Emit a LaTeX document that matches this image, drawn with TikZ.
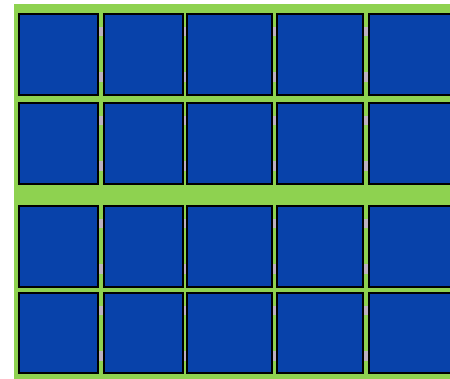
\documentclass[tikz,border=0pt]{standalone}
\usetikzlibrary{calc}
\definecolor{bggreen}{RGB}{142,210,80}
\definecolor{panelblue}{RGB}{8,66,170}
\definecolor{linkgray}{RGB}{188,178,192}
\tikzset{
  panel/.style={draw=black, line width=2pt, fill=panelblue, anchor=north west, inner sep=0pt, outer sep=0pt},
  link/.style={fill=linkgray}
}
\begin{document}
\begin{tikzpicture}[x=1pt,y=1pt]
\useasboundingbox (0,0) rectangle (450,-379);
\fill[bggreen] (14,-4) rectangle (450,-379);
\begin{scope}
\clip (0,0) rectangle (450,-379);
% rows: top, height ; columns: left, width
\foreach \r/\top/\h in {1/14/81, 2/103/81, 3/206/81, 4/293/80}{
  \foreach \c/\left/\w in {1/19/79, 2/104/79, 3/187/85, 4/277/86, 5/369/90}{
    \node[panel, minimum width=\w pt, minimum height=\h pt] (s\r\c) at (\left,-\top) {};
  }
  \foreach \a/\b in {1/2, 2/3, 3/4, 4/5}{
    \fill[link] ($(s\r\a.north east)+(1,-13)$) rectangle ($(s\r\b.north west)+(-1,-22)$);
    \fill[link] ($(s\r\a.north east)+(1,-58)$) rectangle ($(s\r\b.north west)+(-1,-68)$);
  }
}
\end{scope}
\end{tikzpicture}
\end{document}
